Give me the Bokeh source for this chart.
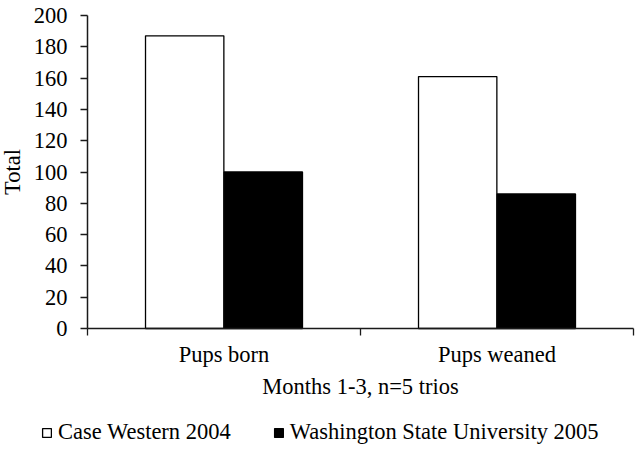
import numpy as np
from bokeh.plotting import figure
from bokeh.models import FixedTicker, Range1d, Legend, ColumnDataSource
from bokeh.embed import file_html
from bokeh.resources import INLINE

categories = ["Pups born", "Pups weaned"]
series_names = ["Case Western 2004", "Washington State University 2005"]
case_western = [187, 161]
washington_state = [100, 86]
y_ticks = [0, 20, 40, 60, 80, 100, 120, 140, 160, 180, 200]
y_max = 200

FONT = "Liberation Serif"
FS = "22.5px"
INK = "#1a1a1a"

W, H = 641, 451
# frame covers the whole canvas; axes are pinned at the data origin
px_per_cat = 273.0
px_per_unit = 313.0 / y_max
x_start = -87.0 / px_per_cat
x_end = len(categories) + (W - 633.0) / px_per_cat
y_end = y_max + 15.0 / px_per_unit
y_start = -(H - 328.0) / px_per_unit

p = figure(width=W, height=H, output_backend="svg", toolbar_location=None,
           x_range=Range1d(x_start, x_end), y_range=Range1d(y_start, y_end),
           min_border_left=0, min_border_right=0, min_border_top=0, min_border_bottom=0)
p.outline_line_color = None
p.xgrid.visible = False
p.ygrid.visible = False
p.background_fill_color = "white"
p.border_fill_color = "white"

idx = np.arange(len(categories))
bw = 0.287
off = 0.144
src1 = ColumnDataSource(dict(x=idx + 0.5 - off, top=case_western))
src2 = ColumnDataSource(dict(x=idx + 0.5 + off, top=washington_state))
r1 = p.vbar(x="x", top="top", width=bw, bottom=0, source=src1,
            fill_color="white", line_color="black", line_width=1.3)
r2 = p.vbar(x="x", top="top", width=bw, bottom=0, source=src2,
            fill_color="black", line_color="black", line_width=1.3)

# x axis
xa = p.xaxis[0]
xa.fixed_location = 0
xa.bounds = (0, len(categories))
xa.ticker = FixedTicker(ticks=list(idx + 0.5), minor_ticks=list(range(len(categories) + 1)))
xa.major_label_overrides = {float(i + 0.5): c for i, c in enumerate(categories)}
xa.major_tick_out = 0
xa.major_tick_in = 0
xa.minor_tick_out = 7
xa.minor_tick_in = 0
xa.minor_tick_line_color = INK
xa.minor_tick_line_width = 1.3
xa.axis_line_color = INK
xa.axis_line_width = 1.5
xa.major_label_text_font = FONT
xa.major_label_text_font_size = FS
xa.major_label_text_color = "black"
xa.major_label_standoff = 6
xa.axis_label = "Months 1-3, n=5 trios"
xa.axis_label_text_font = FONT
xa.axis_label_text_font_size = FS
xa.axis_label_text_font_style = "normal"
xa.axis_label_text_color = "black"
xa.axis_label_standoff = 4

# y axis
ya = p.yaxis[0]
ya.fixed_location = 0
ya.bounds = (0, y_max)
ya.ticker = FixedTicker(ticks=y_ticks)
ya.minor_tick_line_color = None
ya.major_tick_out = 7
ya.major_tick_in = 0
ya.major_tick_line_color = INK
ya.major_tick_line_width = 1.3
ya.axis_line_color = INK
ya.axis_line_width = 1.5
ya.major_label_text_font = FONT
ya.major_label_text_font_size = FS
ya.major_label_text_color = "black"
ya.major_label_standoff = 13
ya.axis_label = "Total"
ya.axis_label_text_font = FONT
ya.axis_label_text_font_size = FS
ya.axis_label_text_font_style = "normal"
ya.axis_label_text_color = "black"
ya.axis_label_standoff = 6

legend = Legend(items=[(series_names[0], [r1]), (series_names[1], [r2])],
                orientation="horizontal", location=(41, 6),
                padding=0, margin=0, spacing=42, label_standoff=6,
                glyph_width=11, glyph_height=11,
                border_line_color=None, background_fill_alpha=0,
                label_text_font=FONT, label_text_font_size=FS, label_text_color="black")
p.add_layout(legend, "center")

open("out.html", "w").write(file_html(p, INLINE))
